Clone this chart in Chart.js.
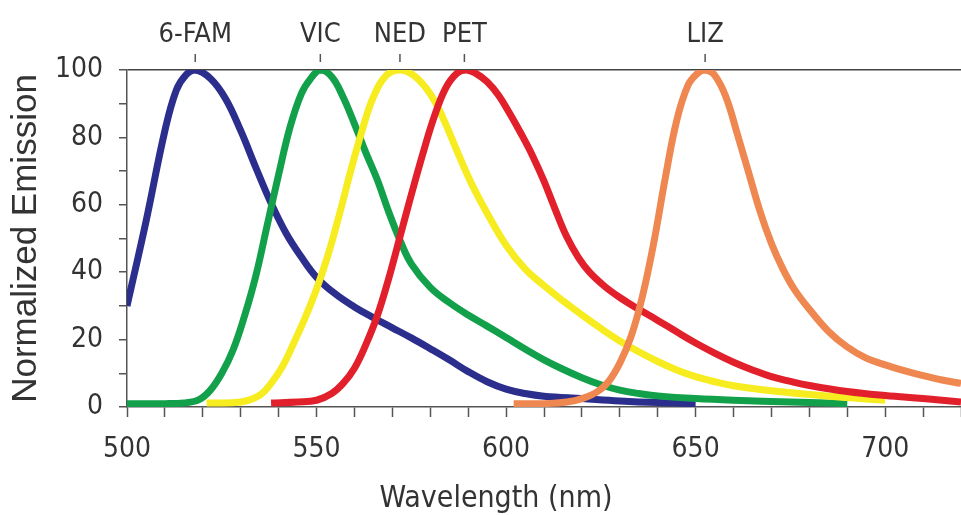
<!DOCTYPE html>
<html>
<head>
<meta charset="utf-8">
<script src="https://cdn.jsdelivr.net/npm/chart.js@4"></script>
<style>
  html, body { margin: 0; padding: 0; background: #fff; }
  #wrap { width: 961px; height: 515px; }
</style>
</head>
<body>
<div id="wrap"><canvas id="emissionChart"></canvas></div>
<script>
/* global Chart */

// Dye names and the wavelength of each emission peak (nm)
let dyeNames = ['6-FAM', 'VIC', 'NED', 'PET', 'LIZ'];
let dyePeaks = [518, 551, 572, 589, 652.5];

// 6-FAM (blue)
let famNm  = [500, 505, 510, 513, 515.5, 518, 522, 526, 530, 534, 538, 542, 546, 550, 555, 560, 565, 570, 575, 580, 585, 590, 595, 600, 605, 610, 620, 630, 640, 650];
let famVal = [30, 55, 82, 94, 98.5, 100, 97.5, 91.5, 82, 71, 60.5, 51.5, 44.5, 38.5, 33.5, 29.7, 26.5, 23.5, 20.5, 17.3, 14, 10.5, 7.5, 5.3, 4, 3.2, 2.5, 1.8, 1.3, 1];

// VIC (green)
let vicNm  = [500, 510, 515, 519, 522, 525, 528, 531, 534, 537, 540, 543, 546, 548.5, 551, 554, 557, 560, 563, 566, 569, 572, 575, 580, 585, 590, 595, 600, 605, 610, 615, 620, 625, 630, 635, 640, 650, 660, 675, 690];
let vicVal = [1, 1, 1.2, 2.2, 5, 10, 17, 27, 39, 54, 69, 83, 93, 97.5, 100, 98, 92, 84, 75.5, 67.5, 58, 49.5, 42.5, 35.5, 31, 27.3, 24, 20.6, 17.2, 14, 11.2, 8.7, 6.6, 5, 4, 3.3, 2.5, 2, 1.5, 1];

// NED (yellow)
let nedNm  = [521, 530, 535, 538, 541, 544, 547, 550, 553, 556, 559, 562, 565, 568.5, 572, 575.5, 579, 582, 585, 588, 591, 595, 600, 605, 610, 615, 620, 625, 630, 635, 640, 645, 650, 655, 660, 670, 680, 690, 700];
let nedVal = [1.2, 1.5, 3.5, 7, 12, 19, 26.5, 35, 45, 57, 70, 82, 92, 98.5, 100, 98.5, 94.5, 89, 81.5, 73.5, 66, 57.5, 48, 41, 36, 31.5, 27.3, 23.3, 19.6, 16.4, 13.5, 11, 9, 7.5, 6.3, 4.8, 3.7, 2.8, 2];

// PET (red)
let petNm  = [538, 545, 550, 554, 557, 560, 563, 566, 569, 572, 575, 578, 581, 584, 587, 589.5, 592, 595, 598, 601, 604, 607, 610, 613, 616, 619, 622, 626, 630, 635, 640, 645, 650, 655, 660, 665, 670, 675, 680, 690, 700, 710, 720];
let petVal = [1.2, 1.5, 2, 4, 7, 11.5, 18.5, 27, 38, 50.5, 63, 75, 86, 94.5, 99, 100, 99, 96.5, 92.5, 87, 81, 74.5, 67, 58.5, 50.5, 44.5, 40, 35.8, 32.5, 29, 25.7, 22.3, 19, 16, 13.3, 11, 9, 7.6, 6.4, 4.6, 3.4, 2.5, 1.5];

// LIZ (orange)
let lizNm  = [602, 610, 616, 620, 624, 627, 630, 633, 636, 639, 642, 645, 648, 650.5, 652.5, 655, 658, 661, 664, 667, 670, 673, 676, 680, 685, 690, 695, 700, 705, 710, 715, 720];
let lizVal = [1, 1, 1.5, 2.5, 4.5, 7.5, 13, 21, 33, 49, 68, 85, 95.5, 99, 100, 98.5, 92, 81, 69.5, 58, 48.5, 41, 35, 29, 22.5, 17.8, 14.5, 12.5, 10.8, 9.3, 8, 7];

let textColor = '#333';
let axisColor = '#555';
let narrowFont = '"DejaVu Sans Condensed", "Liberation Sans", sans-serif';

function points(nm, val) {
    let out = [];
    for (let i = 0; i < nm.length; i++) {
        out.push({ x: nm[i], y: val[i] });
    }
    return out;
}

function dyeLine(label, nm, val, color, order) {
    return {
        label: label,
        data: points(nm, val),
        borderColor: color,
        borderWidth: 7,
        pointRadius: 0,
        fill: false,
        tension: 0.4,
        order: order
    };
}

// Dye names over the peaks, and the x axis title
let dyeLabelPlugin = {
    id: 'dyeLabels',
    afterDraw(chart) {
        let ctx = chart.ctx;
        let x = chart.scales.x;
        ctx.save();
        ctx.fillStyle = textColor;
        ctx.strokeStyle = axisColor;
        ctx.lineWidth = 1.5;
        ctx.textAlign = 'center';
        ctx.textBaseline = 'alphabetic';
        ctx.font = '27px ' + narrowFont;
        for (let i = 0; i < dyeNames.length; i++) {
            let px = x.getPixelForValue(dyePeaks[i]);
            ctx.beginPath();
            ctx.moveTo(px, 54);
            ctx.lineTo(px, 62);
            ctx.stroke();
            ctx.fillText(dyeNames[i], px, 42);
        }
        ctx.font = '30px ' + narrowFont;
        ctx.fillText('Wavelength (nm)', 496, 507);
        ctx.restore();
    }
};

new Chart(document.getElementById('emissionChart'), {
    type: 'line',
    data: {
        datasets: [
            dyeLine('6-FAM', famNm, famVal, '#2b2e8c', 5),
            dyeLine('VIC', vicNm, vicVal, '#13a04b', 4),
            dyeLine('NED', nedNm, nedVal, '#f6ec1f', 3),
            dyeLine('PET', petNm, petVal, '#e2202b', 2),
            dyeLine('LIZ', lizNm, lizVal, '#ef8751', 1)
        ]
    },
    options: {
        responsive: true,
        maintainAspectRatio: false,
        animation: false,
        layout: { padding: { top: 70, right: 0, left: 0, bottom: 0 } },
        plugins: {
            legend: { display: false },
            tooltip: { enabled: false }
        },
        scales: {
            x: {
                type: 'linear',
                min: 500,
                max: 720,
                afterFit(scale) {
                    scale.height = 108;
                    scale.paddingRight = 0;
                    scale.paddingLeft = 0;
                },
                border: { color: axisColor, width: 1.5 },
                grid: { drawOnChartArea: false, tickLength: 10, tickColor: axisColor, tickWidth: 1.5 },
                ticks: {
                    stepSize: 10,
                    autoSkip: false,
                    maxRotation: 0,
                    padding: 16,
                    color: textColor,
                    font: { family: narrowFont, size: 28 },
                    callback: v => (v % 50 === 0 ? v : '')
                }
            },
            y: {
                min: 0,
                max: 100,
                afterFit(scale) { scale.width = 127; },
                border: { color: axisColor, width: 1.5 },
                grid: {
                    color: ctx => (ctx.tick && ctx.tick.value === 100 ? '#444' : 'transparent'),
                    lineWidth: 1.5,
                    tickLength: 8,
                    tickColor: axisColor,
                    tickWidth: 1.5
                },
                ticks: {
                    stepSize: 10,
                    autoSkip: false,
                    padding: 16,
                    color: textColor,
                    font: { family: narrowFont, size: 28 },
                    callback: v => (v % 20 === 0 ? v : '')
                },
                title: {
                    display: true,
                    text: 'Normalized Emission',
                    color: textColor,
                    font: { family: '"Liberation Sans", Arial, sans-serif', size: 35 },
                    padding: { top: 5, bottom: 0 }
                }
            }
        }
    },
    plugins: [dyeLabelPlugin]
});
</script>
</body>
</html>
